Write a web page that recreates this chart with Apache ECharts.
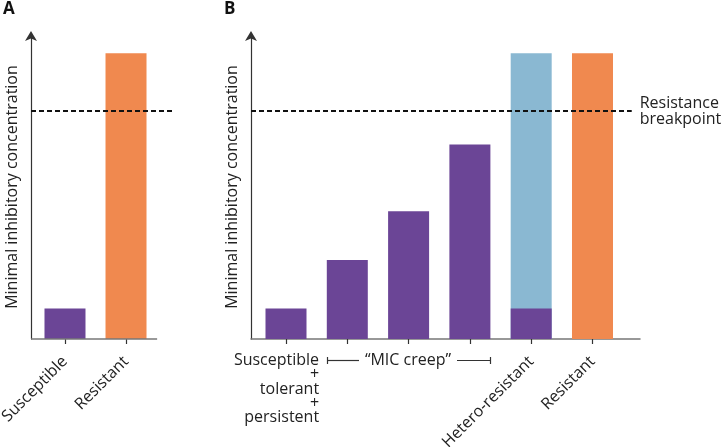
<!DOCTYPE html>
<html>
	<head>
		<meta charset="UTF-8">
		<title></title>
		<style>html,body{margin:0;padding:0;background:#fff;}#charts{width:722px;height:447px;}</style>
	</head>
	<body>
		<div id="charts"></div>
	</body>
	<script src="https://cdn.jsdelivr.net/npm/echarts@6/dist/echarts.min.js"></script>
	<script>
		var mycharts = echarts.init(document.getElementById('charts'))
		//数据 (MIC, 任意单位 0-100)
		var catsA = ['Susceptible', 'Resistant'];
		var micA = [10, 94];
		var catsB = ['Susceptible\n+\ntolerant\n+\npersistent', '', '', '', 'Hetero-resistant', 'Resistant'];
		var micB = [10, 26, 42, 64, 10, 94];   //异质耐药的底部为敏感亚群
		var heteroTotal = 94;                  //异质耐药整体
		var breakpoint = 75;
		var colorsA = ['#6b4596', '#f0894f'];
		var colorsB = ['#6b4596', '#6b4596', '#6b4596', '#6b4596', '#6b4596', '#f0894f'];
		var heteroColor = '#8ab8d2';

		var font = "'Open Sans', 'Noto Sans', sans-serif";
		var fs = 16;
		var xMinA = -0.557, xMaxA = 1.77, baseEndA = 1.51;
		var xMinB = -0.571, xMaxB = 5.775, lineEndB = 5.64;

		var toPairs = function (vals, colors) {
			var res = [];
			for (var i = 0; i < vals.length; i++) {
				res.push({value: [i, vals[i]], itemStyle: {color: colors[i]}});
			}
			return res;
		};
		var nameOf = function (cats) {
			return function (v) { return cats[Math.round(v)] || ''; };
		};
		var yAxisCommon = function (idx) {
			return {
				gridIndex: idx, type: 'value', min: 0, max: 100, position: 'left',
				splitLine: {show: false}, axisTick: {show: false}, axisLabel: {show: false},
				axisLine: {show: true, onZero: false, symbol: ['none', 'arrow'], symbolSize: [9, 10], symbolOffset: [0, 4],
					lineStyle: {color: '#333', width: 1.2}},
				name: 'Minimal inhibitory concentration', nameLocation: 'middle', nameGap: 11,
				nameTextStyle: {fontFamily: font, fontSize: fs, color: '#222'}
			};
		};
		var tickStyle = {show: true, length: 5, lineStyle: {color: '#333', width: 1.2}};

		option = {
			animation: false,
			backgroundColor: '#fff',
			title: [
				{text: 'A', left: 3, top: 1, padding: 0, textStyle: {fontFamily: font, fontSize: 17, fontWeight: 'bold', color: '#111'}},
				{text: 'B', left: 224, top: 1, padding: 0, textStyle: {fontFamily: font, fontSize: 17, fontWeight: 'bold', color: '#111'}}
			],
			grid: [
				{left: 31, top: 35, width: 142, bottom: 108, containLabel: false, outerBoundsMode: 'none'},
				{left: 251, top: 35, width: 389, bottom: 108, containLabel: false, outerBoundsMode: 'none'}
			],
			xAxis: [
				//A: 刻度和斜标签
				{gridIndex: 0, type: 'value', min: xMinA, max: xMaxA, position: 'bottom', splitLine: {show: false},
					axisLine: {show: false},
					axisTick: Object.assign({customValues: [0, 1]}, tickStyle),
					axisLabel: {customValues: [0, 1], formatter: nameOf(catsA), rotate: 45, margin: 20,
						fontFamily: font, fontSize: fs, color: '#222'}},
				//B: 轴线、刻度和斜标签
				{gridIndex: 1, type: 'value', min: xMinB, max: xMaxB, position: 'bottom', splitLine: {show: false},
					axisLine: {show: true, onZero: false, lineStyle: {color: '#777', width: 1.5}},
					axisTick: Object.assign({customValues: [0, 1, 2, 3, 4, 5]}, tickStyle),
					axisLabel: {customValues: [4, 5], formatter: nameOf(catsB), rotate: 45, margin: 20,
						fontFamily: font, fontSize: fs, color: '#222'}},
				//B: 第一个水平标签 (右对齐)
				{gridIndex: 1, type: 'value', min: xMinB, max: xMaxB, position: 'bottom', offset: 0, splitLine: {show: false},
					axisLine: {show: false, onZero: false}, axisTick: {show: false},
					axisLabel: {customValues: [0.54], formatter: function () { return catsB[0]; },
						align: 'right', margin: 14, lineHeight: 14.4,
						fontFamily: font, fontSize: fs, color: '#222'}}
			],
			yAxis: [yAxisCommon(0), yAxisCommon(1)],
			series: [
				{
					name: 'A', type: 'bar', xAxisIndex: 0, yAxisIndex: 0, barWidth: 41,
					data: toPairs(micA, colorsA),
					markLine: {
						silent: true, symbol: 'none', label: {show: false},
						data: [
							[{coord: [xMinA, breakpoint], lineStyle: {type: [5, 3], color: '#111', width: 1.8}},
							 {coord: [xMaxA, breakpoint]}],
							//A 的横轴线
							[{coord: [xMinA, 0], lineStyle: {type: 'solid', color: '#777', width: 1.5}},
							 {coord: [baseEndA, 0]}]
						]
					}
				},
				{
					name: 'Hetero-resistant', type: 'bar', xAxisIndex: 1, yAxisIndex: 1, barWidth: 41, barGap: '-100%',
					data: [{value: [4, heteroTotal], itemStyle: {color: heteroColor}}]
				},
				{
					name: 'B', type: 'bar', xAxisIndex: 1, yAxisIndex: 1, barWidth: 41, barGap: '-100%',
					data: toPairs(micB, colorsB),
					markLine: {
						silent: true, symbol: 'none',
						lineStyle: {type: [5, 3], color: '#111', width: 1.8},
						label: {show: true, position: 'end', distance: 8, formatter: 'Resistance\nbreakpoint',
							fontFamily: font, fontSize: fs, lineHeight: 16, color: '#222', align: 'left'},
						data: [[{coord: [xMinB, breakpoint]}, {coord: [lineEndB, breakpoint]}]]
					}
				}
			],
			//"MIC creep" 标注
			graphic: [
				{type: 'line', shape: {x1: 327, y1: 360.5, x2: 359, y2: 360.5}, style: {stroke: '#333', lineWidth: 1.2}},
				{type: 'line', shape: {x1: 327.5, y1: 357, x2: 327.5, y2: 364}, style: {stroke: '#333', lineWidth: 1.2}},
				{type: 'line', shape: {x1: 457, y1: 360.5, x2: 491, y2: 360.5}, style: {stroke: '#333', lineWidth: 1.2}},
				{type: 'line', shape: {x1: 490.5, y1: 357, x2: 490.5, y2: 364}, style: {stroke: '#333', lineWidth: 1.2}},
				{type: 'text', x: 408, y: 360, style: {text: '\u201cMIC creep\u201d', fontFamily: font, fontSize: fs,
					fill: '#222', align: 'center', verticalAlign: 'middle'}}
			]
		}
		mycharts.setOption(option);
	</script>
</html>
